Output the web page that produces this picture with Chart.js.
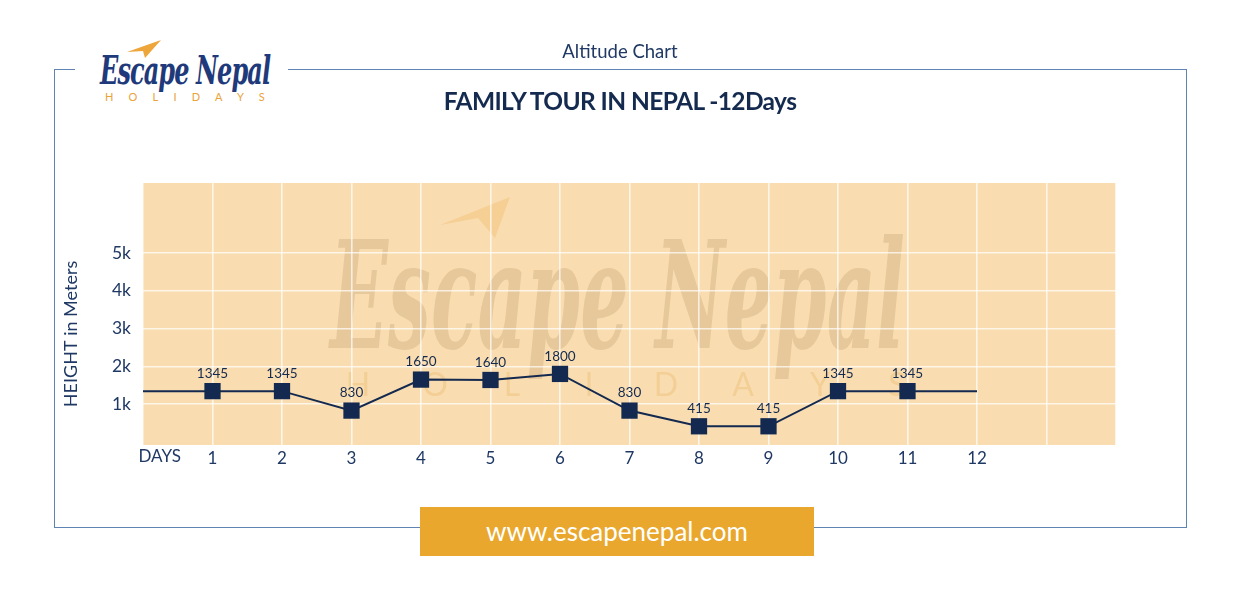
<!DOCTYPE html>
<html><head><meta charset="utf-8">
<script src="https://cdn.jsdelivr.net/npm/chart.js@4"></script>
<style>
html,body{margin:0;padding:0;background:#fff;}
body{width:1240px;height:598px;position:relative;overflow:hidden;font-family:Lato,"Open Sans",sans-serif;}
#frame{position:absolute;left:54px;top:69px;width:1133px;height:459px;border:1px solid #5f84b3;box-sizing:border-box;}
#cv{position:absolute;left:0;top:0;}
#logo{position:absolute;left:75px;top:38px;width:213px;height:70px;background:#fff;}
#logo .main{position:absolute;left:25px;top:8px;font-family:"DejaVu Serif",serif;font-weight:bold;font-style:italic;font-size:40px;color:#1f3a7a;white-space:nowrap;transform-origin:0 0;transform:scaleX(0.6);letter-spacing:-1.5px;}
#logo .sub{position:absolute;left:30px;top:52px;font-size:11px;color:#e9a33a;letter-spacing:15.2px;white-space:nowrap;}
#logo svg{position:absolute;left:52px;top:2px;}
#sub{position:absolute;left:0;width:1240px;top:40px;text-align:center;font-size:18.5px;color:#1f3864;}
#title{position:absolute;left:0;width:1240px;top:86px;text-align:center;font-size:24.5px;font-weight:bold;color:#142a4f;letter-spacing:-0.6px;}
#banner{position:absolute;left:420px;top:507px;width:394px;height:49px;background:#e9a82d;color:#fff;font-size:26px;text-align:center;line-height:49px;}
</style></head>
<body>
<div id="frame"></div>
<canvas id="cv" width="1240" height="598"></canvas>
<div id="logo">
  <svg width="34" height="20" viewBox="0 0 34 20"><polygon points="0,12 34,0 18,18 16,11" fill="#eea53a"/></svg>
  <div class="main">Escape Nepal</div>
  <div class="sub">HOLIDAYS</div>
</div>
<div id="sub">Altitude Chart</div>
<div id="title">FAMILY TOUR IN NEPAL -12Days</div>
<div id="banner">www.escapenepal.com</div>
<script>
// ---- data ----
const days = [1,2,3,4,5,6,7,8,9,10,11];
const heights = [1345,1345,830,1650,1640,1800,830,415,415,1345,1345];
const lineStartDay = 0, lineStartHeight = 1345;
const lineEndDay = 12, lineEndHeight = 1345;
const yTickValues = [1000,2000,3000,4000,5000];
const xTickLabels = ['1','2','3','4','5','6','7','8','9','10','11','12'];
const xAxisName = 'DAYS';
const yAxisName = 'HEIGHT in Meters';
const watermarkMain = 'Escape Nepal';
const watermarkSub = 'HOLIDAYS';

const NAVY = '#13294f';
const TXT = '#1f3864';
const GRID = 'rgba(255,255,255,0.7)';

const points = [{x:lineStartDay,y:lineStartHeight}]
  .concat(days.map((d,i)=>({x:d,y:heights[i]})))
  .concat([{x:lineEndDay,y:lineEndHeight}]);

const bgPlugin = {
  id:'bg',
  beforeDraw(chart){
    const {ctx, chartArea:a} = chart;
    ctx.save();
    ctx.fillStyle = '#f9ddb0';
    ctx.fillRect(a.left, a.top, a.right-a.left, a.bottom-a.top);
    // watermark
    ctx.fillStyle = 'rgba(190,158,112,0.33)';
    ctx.font = 'italic bold 150px "DejaVu Serif"';
    ctx.textBaseline = 'alphabetic';
    const w = ctx.measureText(watermarkMain).width;
    ctx.translate(330, 348);
    ctx.scale(575/w, 1);
    ctx.fillText(watermarkMain, 0, 0);
    ctx.restore();
    ctx.save();
    ctx.fillStyle = 'rgba(235,190,120,0.45)';
    ctx.font = '32px Lato';
    ctx.textAlign = 'center';
    ctx.textBaseline = 'middle';
    watermarkSub.split('').forEach((c,i)=>{ ctx.fillText(c, 358 + i*77, 386); });
    // faint paper plane
    ctx.fillStyle = 'rgba(240,180,100,0.35)';
    ctx.beginPath();
    ctx.moveTo(440,225); ctx.lineTo(510,197); ctx.lineTo(495,238); ctx.lineTo(478,218); ctx.closePath();
    ctx.fill();
    ctx.restore();
  }
};

const labelPlugin = {
  id:'lbl',
  afterDatasetsDraw(chart){
    const {ctx} = chart;
    const meta = chart.getDatasetMeta(0);
    ctx.save();
    ctx.fillStyle = NAVY;
    ctx.font = '13.5px Lato';
    ctx.textAlign = 'center';
    ctx.textBaseline = 'bottom';
    days.forEach((d,i)=>{
      const el = meta.data[i+1];
      ctx.fillText(String(heights[i]), el.x, el.y - 11);
    });
    // x axis name
    const xs = chart.scales.x;
    ctx.fillStyle = TXT;
    ctx.font = '17px Lato';
    ctx.textBaseline = 'middle';
    ctx.fillText(xAxisName, xs.getPixelForValue(0.24), xs.top + 12);
    // y axis name
    ctx.save();
    ctx.translate(71, 334);
    ctx.rotate(-Math.PI/2);
    ctx.font = '18px Lato';
    ctx.fillText(yAxisName, 0, 0);
    ctx.restore();
    ctx.restore();
  }
};

new Chart(document.getElementById('cv'), {
  type:'line',
  data:{ datasets:[{
    data: points,
    borderColor: NAVY,
    borderWidth: 2,
    backgroundColor: NAVY,
    pointStyle: 'rect',
    pointRadius: ctx => (ctx.dataIndex===0 || ctx.dataIndex===points.length-1) ? 0 : 11.5,
    pointHoverRadius: 11.5,
    pointBorderWidth: 0,
    tension: 0,
    clip: false
  }]},
  options:{
    responsive:false,
    animation:false,
    events:[],
    layout:{ padding:{ left:56, right:124, top:183, bottom:113 } },
    plugins:{ legend:{display:false}, tooltip:{enabled:false} },
    scales:{
      x:{
        type:'linear', min:0, max:14,
        afterFit(s){ s.height = 40; },
        grid:{ color:GRID, lineWidth:1.6, drawTicks:false },
        border:{ display:false },
        ticks:{
          stepSize:1, autoSkip:false, maxRotation:0, padding:3,
          color:TXT, font:{ family:'Lato', size:17 },
          callback:(v)=> (v>=1 && v<=xTickLabels.length) ? xTickLabels[v-1] : ''
        }
      },
      y:{
        type:'linear', min:-80, max:6850,
        afterFit(s){ s.width = 87; },
        afterBuildTicks(s){ s.ticks = yTickValues.map(v=>({value:v})); },
        grid:{ color:GRID, lineWidth:1.6, drawTicks:false },
        border:{ display:false },
        title:{ display:false },
        ticks:{ padding:12, color:TXT, font:{family:'Lato', size:17.5}, callback:(v)=> (v/1000)+'k' }
      }
    }
  },
  plugins:[bgPlugin, labelPlugin]
});
</script>
</body></html>
